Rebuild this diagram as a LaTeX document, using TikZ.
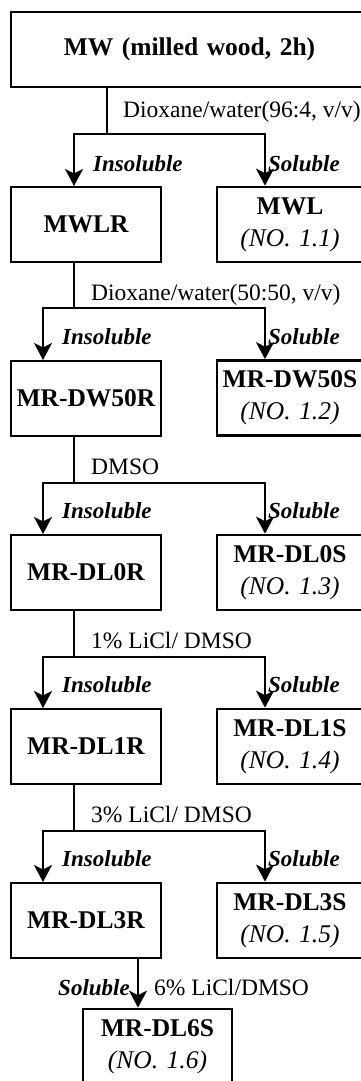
\documentclass[tikz,border=0pt]{standalone}
\usepackage{fontspec}
\setmainfont{Liberation Serif}
\usetikzlibrary{arrows.meta}
\begin{document}
\begin{tikzpicture}[x=1pt,y=-1pt,
  lbox/.style={draw,line width=2pt,inner sep=0pt,text width=150pt,minimum height=75pt,
    font=\fontsize{25.5}{34}\selectfont\bfseries,align=center},
  rbox/.style={draw,line width=2.7pt,inner sep=0pt,text width=146pt,minimum height=75pt,
    font=\fontsize{25.5}{34}\selectfont\bfseries,align=center},
  lab/.style={anchor=base west,inner sep=0pt,font=\fontsize{23.5}{28}\selectfont},
  sol/.style={anchor=base west,inner sep=0pt,font=\fontsize{23}{28}\selectfont\bfseries\itshape},
  conn/.style={line width=2pt},
  arr/.style={line width=2pt,-{Stealth[length=17pt,width=18pt,inset=4.5pt]}}]
\useasboundingbox (0,0) rectangle (361,1081);
\newcommand{\nolab}[1]{\\[-2pt]{\mdseries\itshape (NO. #1)}}
% boxes
\node[lbox,text width=357pt] (mw) at (189.5,49.5) {MW (milled wood, 2h)};
\node[lbox] (r1) at (86,224.5) {MWLR};
\node[rbox] (s1) at (290,224.5) {MWL\nolab{1.1}};
\node[lbox] (r2) at (86,398.5) {MR-DW50R};
\node[rbox] (s2) at (290,398) {MR-DW50S\nolab{1.2}};
\node[lbox] (r3) at (86,572.5) {MR-DL0R};
\node[rbox] (s3) at (290,572.5) {MR-DL0S\nolab{1.3}};
\node[lbox] (r4) at (86,746.5) {MR-DL1R};
\node[rbox] (s4) at (290,746.5) {MR-DL1S\nolab{1.4}};
\node[lbox] (r5) at (86,920.5) {MR-DL3R};
\node[rbox] (s5) at (290,920.5) {MR-DL3S\nolab{1.5}};
\node[rbox,text width=149pt] (s6) at (157.5,1046.5) {MR-DL6S\nolab{1.6}};
% junction coordinates
\coordinate (j1) at (107,134); \coordinate (a1) at (74,134); \coordinate (b1) at (265,134);
\foreach \i/\y in {2/308,3/483,4/657,5/831}{
  \coordinate (j\i) at (74,\y); \coordinate (a\i) at (43,\y); \coordinate (b\i) at (265,\y);
}
% connectors
\draw[conn] (mw.south -| j1) -- (j1);
\draw[arr] (j1) -- (a1) -- (a1 |- r1.north);
\draw[arr] (j1) -- (b1) -- (b1 |- s1.north);
\draw[conn] (r1.south -| j2) -- (j2);
\draw[arr] (j2) -- (a2) -- (a2 |- r2.north);
\draw[arr] (j2) -- (b2) -- (b2 |- s2.north);
\draw[conn] (r2.south -| j3) -- (j3);
\draw[arr] (j3) -- (a3) -- (a3 |- r3.north);
\draw[arr] (j3) -- (b3) -- (b3 |- s3.north);
\draw[conn] (r3.south -| j4) -- (j4);
\draw[arr] (j4) -- (a4) -- (a4 |- r4.north);
\draw[arr] (j4) -- (b4) -- (b4 |- s4.north);
\draw[conn] (r4.south -| j5) -- (j5);
\draw[arr] (j5) -- (a5) -- (a5 |- r5.north);
\draw[arr] (j5) -- (b5) -- (b5 |- s5.north);
\coordinate (f6) at (138,959);
\draw[arr] (r5.south -| f6) -- (s6.north -| f6);
% solvent labels
\node[lab] (t1) at (123,117) {Dioxane/water(96:4, v/v)};
\node[lab] (t2) at (91,300) {Dioxane/water(50:50, v/v)};
\node[lab] (t3) at (91,474) {DMSO};
\node[lab] (t4) at (91,648) {1\% LiCl/ DMSO};
\node[lab] (t5) at (91,822) {3\% LiCl/ DMSO};
\node[lab] (t6) at (154,995) {6\% LiCl/DMSO};
% insoluble / soluble labels
\node[sol] (i1) at (93,171) {Insoluble};
\node[sol] (o1) at (268,171) {Soluble};
\foreach \i/\y in {2/344,3/518,4/692,5/866}{
  \node[sol] (i\i) at (62,\y) {Insoluble};
  \node[sol] (o\i) at (268,\y) {Soluble};
}
\node[sol,anchor=base east] (o6) at (130,995) {Soluble};
\end{tikzpicture}
\end{document}
